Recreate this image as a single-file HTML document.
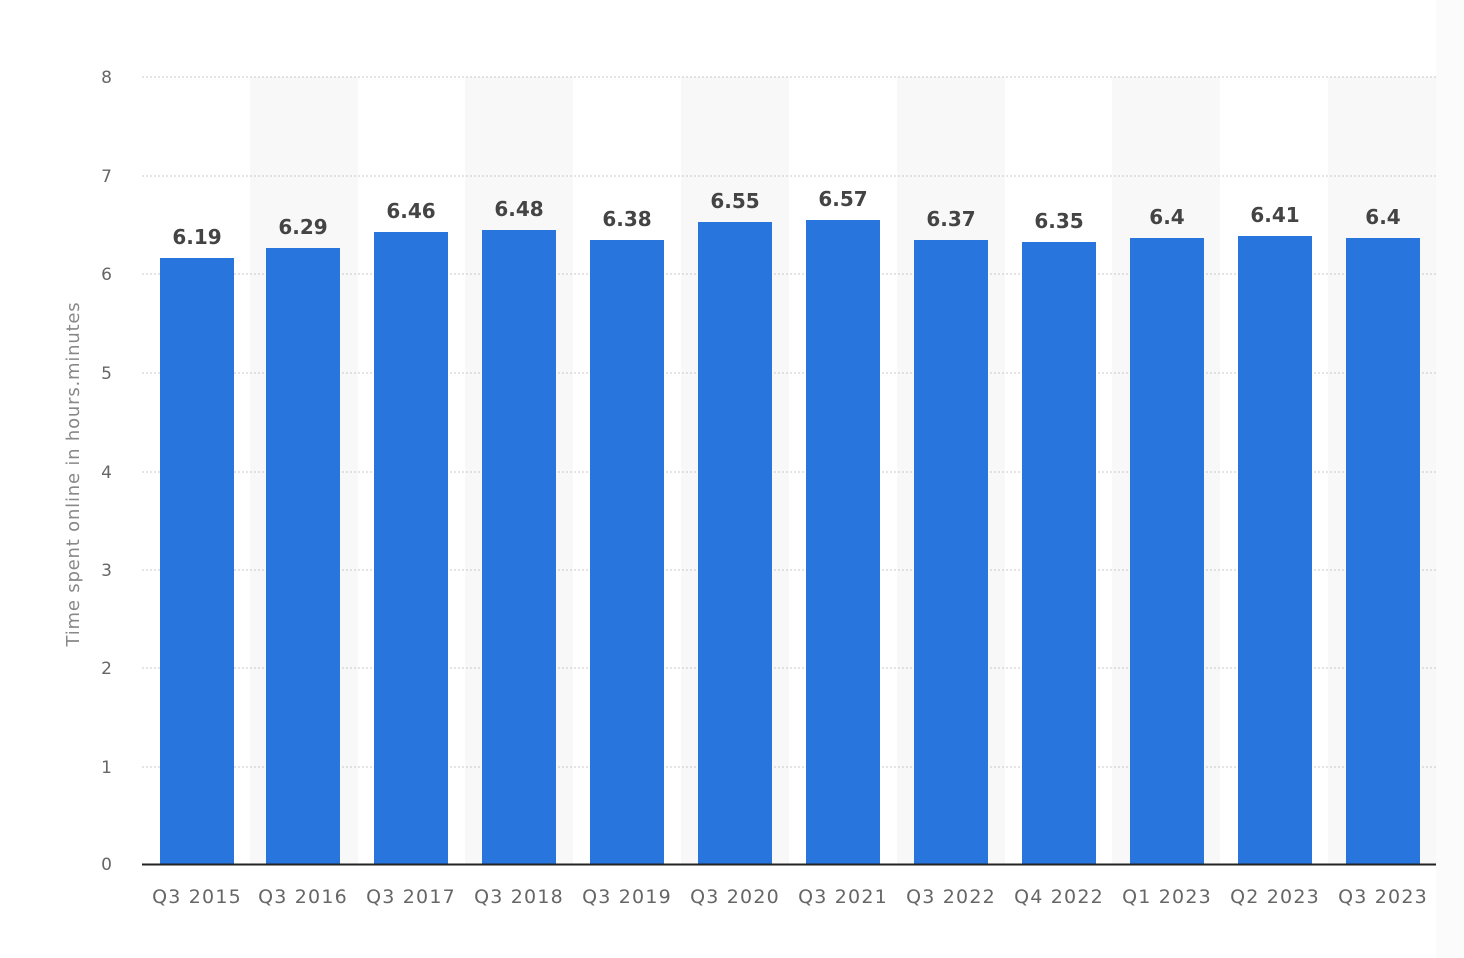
<!DOCTYPE html>
<html><head><meta charset="utf-8"><style>
body{margin:0;background:#fff;}
svg{display:block;font-family:"DejaVu Sans","Liberation Sans",sans-serif;}
</style></head><body>
<svg width="1464" height="958" xmlns="http://www.w3.org/2000/svg">
<rect x="1436" y="0" width="28" height="958" fill="#fbfbfb"/>
<g fill="#f8f8f8">
<rect x="250" y="77" width="108" height="787"/>
<rect x="465" y="77" width="108" height="787"/>
<rect x="681" y="77" width="108" height="787"/>
<rect x="897" y="77" width="108" height="787"/>
<rect x="1112" y="77" width="108" height="787"/>
<rect x="1328" y="77" width="108" height="787"/>
</g>
<g stroke="#c8c8c8" stroke-dasharray="2,2" stroke-width="1">
<line x1="142" x2="1436" y1="77" y2="77"/><line x1="142" x2="1436" y1="176" y2="176"/>
<line x1="142" x2="1436" y1="274" y2="274"/><line x1="142" x2="1436" y1="373" y2="373"/>
<line x1="142" x2="1436" y1="472" y2="472"/><line x1="142" x2="1436" y1="570" y2="570"/>
<line x1="142" x2="1436" y1="668" y2="668"/><line x1="142" x2="1436" y1="767" y2="767"/>
</g>
<g fill="#666" font-size="17" text-anchor="end">
<text x="112" y="83">8</text><text x="112" y="182">7</text><text x="112" y="280">6</text><text x="112" y="379">5</text>
<text x="112" y="478">4</text><text x="112" y="576">3</text><text x="112" y="674">2</text><text x="112" y="773">1</text><text x="112" y="870">0</text>
</g>
<text transform="translate(79,474) rotate(-90)" fill="#888" font-size="18" letter-spacing="0.8" text-anchor="middle">Time spent online in hours.minutes</text>
<g fill="#2876dd">
<rect x="160" y="258" width="74" height="606"/>
<rect x="266" y="248" width="74" height="616"/>
<rect x="374" y="232" width="74" height="632"/>
<rect x="482" y="230" width="74" height="634"/>
<rect x="590" y="240" width="74" height="624"/>
<rect x="698" y="222" width="74" height="642"/>
<rect x="806" y="220" width="74" height="644"/>
<rect x="914" y="240" width="74" height="624"/>
<rect x="1022" y="242" width="74" height="622"/>
<rect x="1130" y="238" width="74" height="626"/>
<rect x="1238" y="236" width="74" height="628"/>
<rect x="1346" y="238" width="74" height="626"/>
</g>
<line x1="142" x2="1436" y1="864.5" y2="864.5" stroke="#222" stroke-width="2"/>
<g fill="#444" font-size="20" font-weight="bold" text-anchor="middle">
<text x="197" y="244">6.19</text><text x="303" y="234">6.29</text><text x="411" y="218">6.46</text>
<text x="519" y="216">6.48</text><text x="627" y="226">6.38</text><text x="735" y="208">6.55</text>
<text x="843" y="206">6.57</text><text x="951" y="226">6.37</text><text x="1059" y="228">6.35</text>
<text x="1167" y="224">6.4</text><text x="1275" y="222">6.41</text><text x="1383" y="224">6.4</text>
</g>
<g fill="#666" font-size="19" letter-spacing="1.2" text-anchor="middle">
<text x="197" y="903">Q3 2015</text><text x="303" y="903">Q3 2016</text><text x="411" y="903">Q3 2017</text>
<text x="519" y="903">Q3 2018</text><text x="627" y="903">Q3 2019</text><text x="735" y="903">Q3 2020</text>
<text x="843" y="903">Q3 2021</text><text x="951" y="903">Q3 2022</text><text x="1059" y="903">Q4 2022</text>
<text x="1167" y="903">Q1 2023</text><text x="1275" y="903">Q2 2023</text><text x="1383" y="903">Q3 2023</text>
</g>
</svg>
</body></html>
